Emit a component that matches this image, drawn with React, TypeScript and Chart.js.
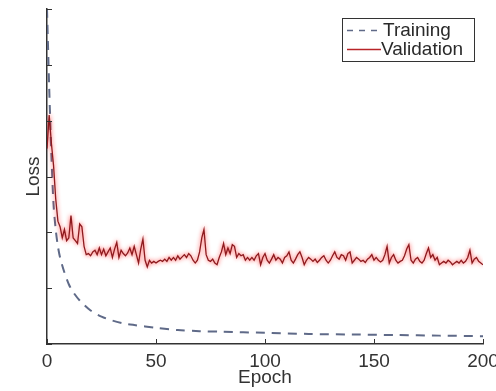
import React, { useEffect, useRef } from "react";
import { Chart, registerables } from "chart.js";

Chart.register(...registerables);

// ---- data ----
const xTicks = [0, 50, 100, 150, 200];
const yTicks = [0, 1, 2, 3, 4, 5, 6];

const trainEpochs = [0, 1, 2, 3, 4, 5, 6, 8, 10, 12, 15, 20, 25, 30, 35, 40, 50, 60, 70, 80, 100, 120, 140, 160, 180, 200];
const trainLoss = [6.0, 4.6, 3.4, 2.5, 2.05, 1.75, 1.55, 1.28, 1.07, 0.93, 0.78, 0.6, 0.49, 0.42, 0.37, 0.34, 0.29, 0.25, 0.23, 0.22, 0.2, 0.18, 0.17, 0.16, 0.15, 0.14];

// validation loss, one value per epoch 0..200
const valLoss = [
  3.5, 4.1, 3.6, 3.2, 2.6, 2.2, 2.1, 1.9, 2.05, 1.85,
  1.9, 2.3, 1.9, 1.85, 1.8, 2.15, 2.1, 1.75, 1.6, 1.62,
  1.58, 1.65, 1.68, 1.6, 1.72, 1.6, 1.7, 1.58, 1.65, 1.72,
  1.55, 1.7, 1.82, 1.55, 1.68, 1.62, 1.58, 1.63, 1.72, 1.6,
  1.75, 1.6, 1.45, 1.7, 1.88, 1.5, 1.38, 1.5, 1.45, 1.48,
  1.45, 1.48, 1.5, 1.48, 1.52, 1.48, 1.55, 1.5, 1.55, 1.5,
  1.58, 1.52, 1.56, 1.6, 1.55, 1.62, 1.58, 1.5, 1.45, 1.5,
  1.65, 1.9, 2.05, 1.6, 1.5, 1.48, 1.52, 1.45, 1.42, 1.55,
  1.65, 1.8, 1.6, 1.72, 1.62, 1.78, 1.75, 1.55, 1.62, 1.58,
  1.6, 1.5, 1.55, 1.5, 1.55, 1.5, 1.58, 1.62, 1.42, 1.55,
  1.62, 1.5, 1.45, 1.52, 1.6, 1.5, 1.55, 1.52, 1.45, 1.55,
  1.58, 1.65, 1.5, 1.45, 1.52, 1.6, 1.65, 1.55, 1.42, 1.5,
  1.55, 1.52, 1.48, 1.52, 1.46, 1.5, 1.55, 1.58, 1.5, 1.45,
  1.5, 1.58, 1.65, 1.55, 1.52, 1.6, 1.58, 1.5, 1.62, 1.65,
  1.45, 1.5, 1.55, 1.52, 1.48, 1.5, 1.46, 1.52, 1.55, 1.6,
  1.5, 1.55, 1.5, 1.47, 1.5, 1.6, 1.75, 1.45, 1.55, 1.6,
  1.5, 1.45, 1.48, 1.5, 1.58, 1.7, 1.78, 1.5, 1.45, 1.52,
  1.55, 1.48, 1.45, 1.5, 1.62, 1.72, 1.55, 1.6, 1.5, 1.55,
  1.42, 1.45, 1.48, 1.45, 1.5, 1.47, 1.42, 1.45, 1.48, 1.45,
  1.5, 1.45, 1.48, 1.55, 1.68, 1.45, 1.52, 1.55, 1.48, 1.45,
  1.42,
];

const seriesNames = ["Training", "Validation"];
const trainColor = "#5f6a88";
const valColor = "#8e1a1e";
const valLegendColor = "#b82428";
const FONT = "'Liberation Sans', Arial, sans-serif";

const inwardTicks = {
  id: "inwardTicks",
  afterDatasetsDraw(chart: any) {
    const { ctx, chartArea, scales } = chart;
    ctx.save();
    ctx.strokeStyle = "#333";
    ctx.lineWidth = 1;
    ctx.beginPath();
    xTicks.forEach((v) => {
      const px = Math.round(scales.x.getPixelForValue(v)) + 0.5;
      ctx.moveTo(px, chartArea.bottom);
      ctx.lineTo(px, chartArea.bottom - 5);
    });
    yTicks.forEach((v) => {
      const py = Math.round(scales.y.getPixelForValue(v)) + 0.5;
      ctx.moveTo(chartArea.left, py);
      ctx.lineTo(chartArea.left + 5, py);
    });
    ctx.stroke();
    ctx.restore();
  },
};

const glow = {
  id: "glow",
  beforeDatasetDraw(chart: any, args: any) {
    if (args.index === 0) {
      chart.ctx.save();
      chart.ctx.shadowColor = "rgba(255,20,20,0.85)";
      chart.ctx.shadowBlur = 4;
    }
  },
  afterDatasetDraw(chart: any, args: any) {
    if (args.index === 0) chart.ctx.restore();
  },
};

const boxLegend = {
  id: "boxLegend",
  afterDraw(chart: any) {
    const { ctx } = chart;
    ctx.save();
    ctx.fillStyle = "#fff";
    ctx.fillRect(342.5, 18.5, 132, 43);
    ctx.strokeStyle = "#333";
    ctx.lineWidth = 1;
    ctx.strokeRect(342.5, 18.5, 132, 43);
    // training sample
    ctx.strokeStyle = trainColor;
    ctx.lineWidth = 1.5;
    ctx.setLineDash([6, 6]);
    ctx.beginPath();
    ctx.moveTo(347, 30.5);
    ctx.lineTo(379, 30.5);
    ctx.stroke();
    // validation sample
    ctx.setLineDash([]);
    ctx.strokeStyle = valLegendColor;
    ctx.beginPath();
    ctx.moveTo(347, 49.5);
    ctx.lineTo(381, 49.5);
    ctx.stroke();
    ctx.fillStyle = "#2a2a2a";
    ctx.font = `19px ${FONT}`;
    ctx.textBaseline = "middle";
    ctx.textAlign = "left";
    ctx.fillText(seriesNames[0], 383, 31);
    ctx.fillText(seriesNames[1], 381, 50);
    ctx.restore();
  },
};

export default function App() {
  const ref = useRef<HTMLCanvasElement>(null);
  useEffect(() => {
    if (!ref.current) return;
    const chart = new Chart(ref.current, {
      type: "line",
      data: {
        datasets: [
          {
            label: seriesNames[1],
            data: valLoss.map((y, i) => ({ x: i, y })),
            borderColor: valColor,
            borderWidth: 1.3,
            pointRadius: 0,
            tension: 0,
            fill: false,
          },
          {
            label: seriesNames[0],
            data: trainEpochs.map((x, i) => ({ x, y: trainLoss[i] })),
            borderColor: trainColor,
            borderWidth: 2,
            borderDash: [9, 7],
            pointRadius: 0,
            tension: 0.3,
            fill: false,
          },
        ],
      },
      options: {
        responsive: false,
        animation: false,
        devicePixelRatio: 1,
        layout: { padding: { left: 0, top: 9, right: 13, bottom: 0 } },
        plugins: { legend: { display: false }, tooltip: { enabled: false } },
        scales: {
          x: {
            type: "linear",
            min: 0,
            max: 200,
            afterBuildTicks: (s: any) => {
              s.ticks = xTicks.map((v) => ({ value: v }));
            },
            afterFit: (s: any) => {
              s.height = 47;
              s.paddingLeft = 0;
              s.paddingRight = 0;
            },
            grid: { display: false, drawTicks: false },
            border: { display: true, color: "#333", width: 1.5 },
            ticks: {
              color: "#333",
              font: { family: FONT, size: 19 },
              padding: 6,
              maxRotation: 0,
              autoSkip: false,
            },
            title: {
              display: true,
              text: "Epoch",
              color: "#333",
              font: { family: FONT, size: 19 },
              padding: { top: 0, bottom: 2 },
            },
          },
          y: {
            type: "linear",
            min: 0,
            max: 6,
            afterBuildTicks: (s: any) => {
              s.ticks = yTicks.map((v) => ({ value: v }));
            },
            afterFit: (s: any) => {
              s.width = 47;
              s.paddingTop = 0;
              s.paddingBottom = 0;
            },
            grid: { display: false, drawTicks: false },
            border: { display: true, color: "#333", width: 1.5 },
            ticks: { display: false },
            title: {
              display: true,
              text: "Loss",
              color: "#333",
              font: { family: FONT, size: 19 },
              padding: { top: 22, bottom: 0 },
            },
          },
        },
      },
      plugins: [inwardTicks, glow, boxLegend],
    });
    return () => chart.destroy();
  }, []);
  return (
    <div style={{ position: "absolute", left: 0, top: 0, width: 496, height: 391, background: "#fff" }}>
      <canvas ref={ref} width={496} height={391} />
    </div>
  );
}
